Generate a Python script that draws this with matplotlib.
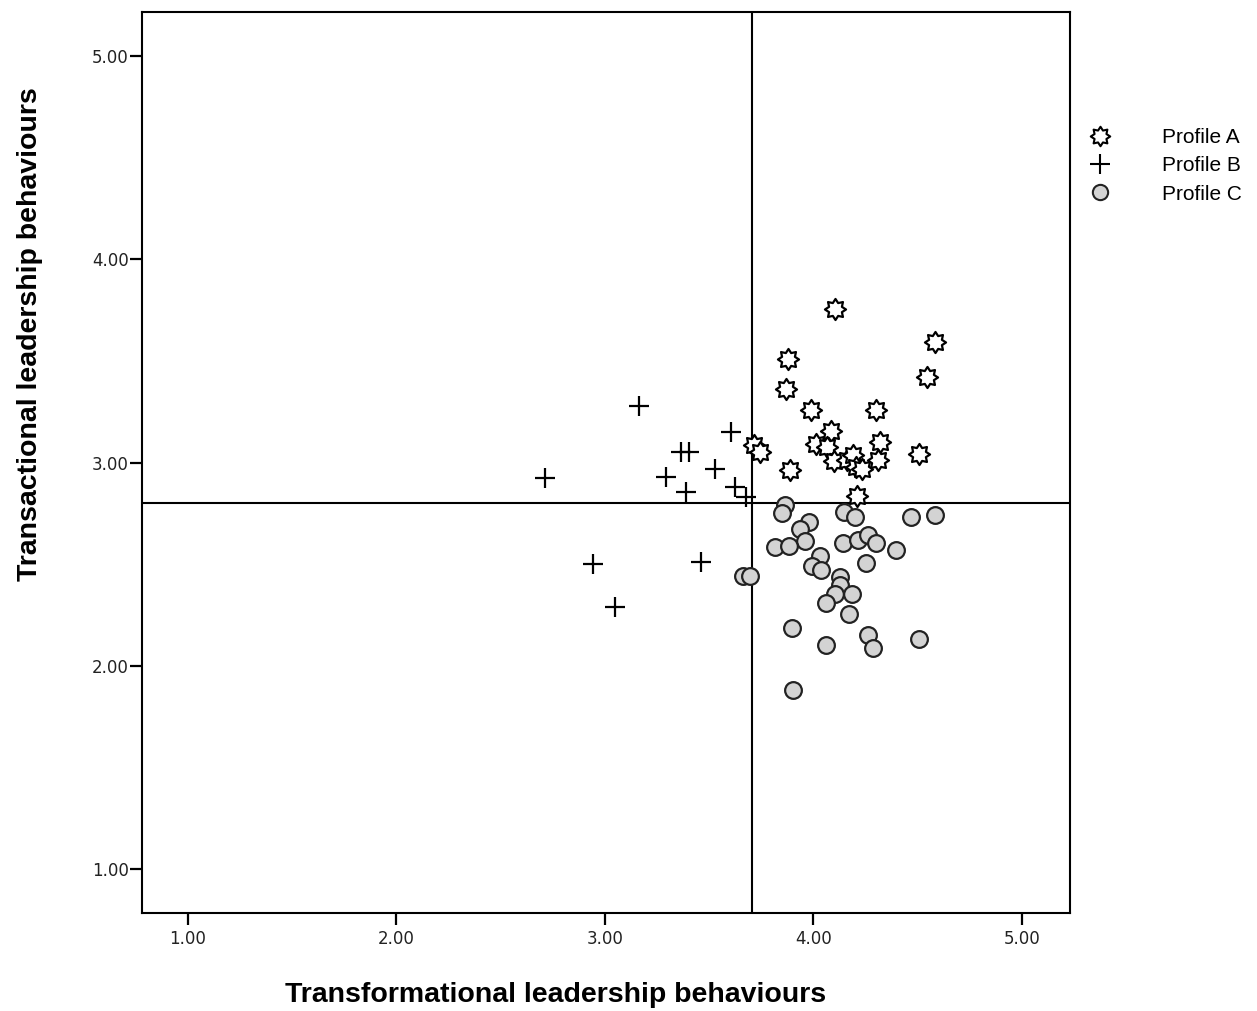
import numpy as np
import matplotlib
matplotlib.use("Agg")
import matplotlib.pyplot as plt
from matplotlib.path import Path
from matplotlib.lines import Line2D

# Profile A (stars)
a_x = [4.103, 4.583, 4.544, 3.878, 3.868, 3.988, 4.300, 4.084, 4.012, 4.063,
       4.098, 4.159, 4.191, 4.204, 4.231, 4.319, 4.311, 4.506, 3.715, 3.743,
       3.887, 4.209]
a_y = [3.757, 3.595, 3.423, 3.507, 3.364, 3.256, 3.256, 3.157, 3.093, 3.077,
       3.006, 3.011, 3.039, 2.979, 2.970, 3.103, 3.011, 3.044, 3.084, 3.054,
       2.961, 2.833]

# Profile B (crosses)
b_x = [2.712, 3.163, 3.293, 3.365, 3.403, 3.388, 3.528, 3.604, 3.624, 3.676,
       2.942, 3.048, 3.460]
b_y = [2.926, 3.280, 2.930, 3.050, 3.050, 2.857, 2.966, 3.148, 2.880, 2.830,
       2.503, 2.290, 2.513]

# Profile C (circles)
c_x = [3.863, 3.851, 3.978, 3.935, 3.957, 3.815, 3.882, 4.145, 4.197, 4.468,
       4.585, 4.143, 4.215, 4.259, 4.300, 4.394, 4.031, 3.993, 4.036, 4.250,
       4.127, 4.127, 4.102, 4.185, 4.060, 4.169, 3.899, 4.062, 4.261, 4.283,
       4.506, 3.900, 3.663, 3.695]
c_y = [2.793, 2.754, 2.707, 2.673, 2.616, 2.582, 2.587, 2.758, 2.733, 2.731,
       2.744, 2.602, 2.618, 2.644, 2.605, 2.572, 2.539, 2.491, 2.471, 2.507,
       2.438, 2.397, 2.351, 2.351, 2.309, 2.257, 2.187, 2.100, 2.151, 2.089,
       2.131, 1.883, 2.443, 2.443]

ref_x = 3.705
ref_y = 2.80
ticks = [1.0, 2.0, 3.0, 4.0, 5.0]
tick_labels = ["1.00", "2.00", "3.00", "4.00", "5.00"]
labels = ["Profile A", "Profile B", "Profile C"]

# sun-like star marker: 8 spikes
n = 8
verts = []
for i in range(2 * n):
    ang = np.pi / 2 + i * np.pi / n
    r = 1.0 if i % 2 == 0 else 0.66
    verts.append((r * np.cos(ang), r * np.sin(ang)))
verts.append(verts[0])
codes = [Path.MOVETO] + [Path.LINETO] * (2 * n - 1) + [Path.CLOSEPOLY]
star = Path(verts, codes)

fig = plt.figure(figsize=(12.57, 10.11), dpi=100)
ax = fig.add_axes([142 / 1257, 1 - 913 / 1011, (1070 - 142) / 1257, (913 - 12) / 1011])

ax.axvline(ref_x, color="black", lw=1.5, zorder=1)
ax.axhline(ref_y, color="black", lw=1.5, zorder=1)

ax.scatter(c_x, c_y, s=145, marker="o", facecolor="#d3d3d3", edgecolor="#222222",
           linewidths=1.6, zorder=3)
ax.scatter(b_x, b_y, s=190, marker="+", color="black", linewidths=1.6, zorder=3)
ax.scatter(a_x, a_y, s=230, marker=star, facecolor="white", edgecolor="black",
           linewidths=1.6, zorder=4)

ax.set_xlim(0.78, 5.23)
ax.set_ylim(0.784, 5.216)
ax.set_xticks(ticks)
ax.set_xticklabels(tick_labels, fontsize=12, color="#222222")
ax.set_yticks(ticks)
ax.set_yticklabels(tick_labels, fontsize=12, color="#222222")
ax.tick_params(direction="out", length=8.5, width=1.6)
ax.tick_params(axis="y", pad=1)
ax.tick_params(axis="x", pad=4)
for s in ax.spines.values():
    s.set_linewidth(1.5)

fig.text(556 / 1257, 1 - 995 / 1011, "Transformational leadership behaviours",
         fontsize=20.5, fontweight="bold", family="Liberation Sans",
         ha="center", va="center")
fig.text(30 / 1257, 1 - 334.5 / 1011, "Transactional leadership behaviours",
         fontsize=20.5, fontweight="bold", family="Liberation Sans",
         ha="center", va="center", rotation=90)

handles = [
    Line2D([], [], ls="none", marker=star, markersize=14, markerfacecolor="white",
           markeredgecolor="black", markeredgewidth=1.5),
    Line2D([], [], ls="none", marker="+", markersize=14, color="black", markeredgewidth=1.5),
    Line2D([], [], ls="none", marker="o", markersize=11, markerfacecolor="#d3d3d3",
           markeredgecolor="#222222", markeredgewidth=1.5),
]
fig.legend(handles, labels, loc="upper left", bbox_to_anchor=(1079 / 1257, 1 - 128 / 1011),
           frameon=False, prop={"family": "Liberation Sans", "size": 15},
           handletextpad=2.0, labelspacing=0.45, borderaxespad=0, borderpad=0)

fig.savefig("out.png", dpi=100)
